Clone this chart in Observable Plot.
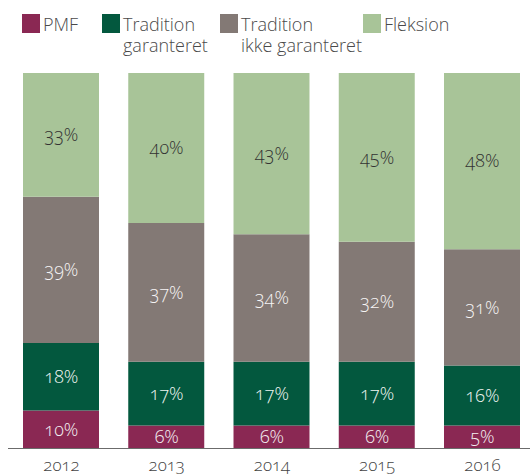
<!DOCTYPE html>
<html>
<head>
<meta charset="utf-8">
<script src="https://cdn.jsdelivr.net/npm/d3@7"></script>
<script src="https://cdn.jsdelivr.net/npm/@observablehq/plot@0.6"></script>
<style>
  html, body { margin: 0; padding: 0; background: #fff; }
  body { width: 531px; height: 476px; overflow: hidden; font-family: "Open Sans", sans-serif; font-weight: 300; }
  #legend { position: relative; height: 60px; color: #4a4a4a; font-size: 18px; line-height: 21px; }
  .item { position: absolute; top: 14px; display: flex; align-items: flex-start; }
  .sw { width: 18px; height: 19px; margin-right: 3px; flex: none; }
  .lbl div { height: 21px; white-space: nowrap; }
</style>
</head>
<body>
<div id="legend"></div>
<div id="chart"></div>
<script>
const years = ["2012", "2013", "2014", "2015", "2016"];
const seriesNames = ["PMF", "Tradition garanteret", "Tradition ikke garanteret", "Fleksion"];
const legendLines = [["PMF"], ["Tradition", "garanteret"], ["Tradition", "ikke garanteret"], ["Fleksion"]];
const colors = ["#8a2853", "#03583e", "#837975", "#a8c498"];
const textColors = ["#f4f0f2", "#f0f5f2", "#f6f4f4", "#333333"];

const pmf = [10, 6, 6, 6, 6];
const tradGaranteret = [18, 17, 17, 17, 16];
const tradIkkeGaranteret = [39, 37, 34, 32, 31];
const fleksion = [33, 40, 43, 45, 47];

const pmfLabels = ["10%", "6%", "6%", "6%", "5%"];
const tradGaranteretLabels = ["18%", "17%", "17%", "17%", "16%"];
const tradIkkeGaranteretLabels = ["39%", "37%", "34%", "32%", "31%"];
const fleksionLabels = ["33%", "40%", "43%", "45%", "48%"];

const legendX = [22, 102, 220, 363];

const valueSets = [pmf, tradGaranteret, tradIkkeGaranteret, fleksion];
const labelSets = [pmfLabels, tradGaranteretLabels, tradIkkeGaranteretLabels, fleksionLabels];

const data = [];
seriesNames.forEach((s, i) => {
  years.forEach((y, j) => {
    data.push({year: y, series: s, value: valueSets[i][j], label: labelSets[i][j], idx: i});
  });
});

// legend
const legend = document.getElementById("legend");
seriesNames.forEach((s, i) => {
  const it = document.createElement("div");
  it.className = "item";
  it.style.left = legendX[i] + "px";
  it.innerHTML = `<div class="sw" style="background:${colors[i]}"></div><div class="lbl">${legendLines[i].map(t => `<div>${t}</div>`).join("")}</div>`;
  legend.appendChild(it);
});

const chart = Plot.plot({
  width: 531,
  height: 416,
  marginTop: 13,
  marginBottom: 28,
  marginLeft: 23,
  marginRight: 11,
  style: {fontFamily: "Open Sans", fontWeight: 300, fontVariantNumeric: "oldstyle-nums", background: "white"},
  x: {domain: years, paddingInner: 0.278, paddingOuter: 0, round: false, label: null},
  y: {domain: [0, 100], axis: null},
  color: {domain: seriesNames, range: colors},
  marks: [
    Plot.barY(data, {x: "year", y: "value", z: "series", fill: "series", order: seriesNames}),
    Plot.text(data, Plot.stackY({x: "year", y: "value", z: "series", order: seriesNames, text: "label",
      fill: d => textColors[d.idx], fontSize: 18, fontWeight: 300})),
    Plot.ruleY([0], {stroke: "#6b6b6b", strokeWidth: 1.2, insetLeft: -15, insetRight: -10}),
    Plot.axisX({tickSize: 0, tickPadding: 10, fontSize: 17, fill: "#444", label: null})
  ]
});
document.getElementById("chart").appendChild(chart);
</script>
</body>
</html>
